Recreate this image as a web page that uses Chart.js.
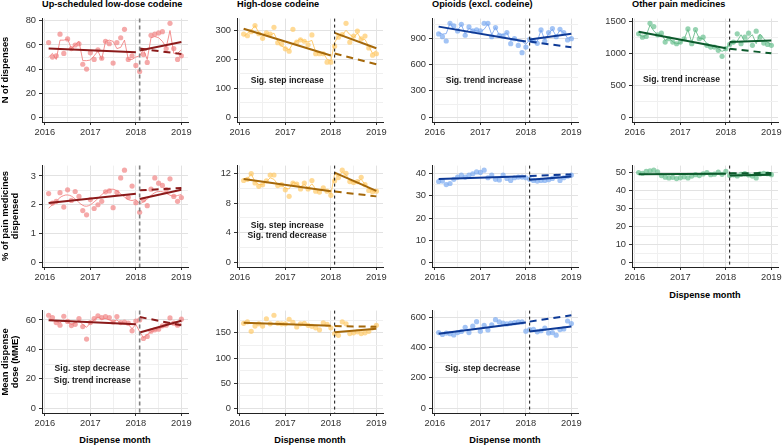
<!DOCTYPE html>
<html><head><meta charset="utf-8">
<script src="https://cdn.jsdelivr.net/npm/chart.js@4.4.1/dist/chart.umd.min.js"></script>
<style>
body{margin:0;background:#fff;}
#root{position:relative;width:782px;height:446px;overflow:hidden;font-family:'Liberation Sans',Arial,Helvetica,sans-serif;background:#fff;}
.panel{position:absolute;}
.txt{position:absolute;font-weight:bold;font-size:9.2px;color:#000;white-space:nowrap;line-height:10px;}
.ylab{position:absolute;font-weight:bold;font-size:9.4px;color:#000;white-space:nowrap;line-height:10px;text-align:center;transform:rotate(-90deg);}
</style></head><body><div id="root"></div>
<script>
// ---------- categories / ticks ----------
const months = [1,2,3,4,5,6,7,8,9,10,11,12,13,14,15,16,17,18,19,20,21,22,23,24,25,26,27,28,29,30,31,32,33,34,35,36];
const preMonths = [1,24];
const postMonths = [25,36];
const interventionMonth = 25;
const yearTickMonths = [0,12,24,36];
const yearLabels = ['2016','2017','2018','2019'];
const drugGroups = ['Up-scheduled low-dose codeine','High-dose codeine','Opioids (excl. codeine)','Other pain medicines'];
const outcomeLabels = [['N of dispenses'],['% of pain medicines','dispensed'],['Mean dispense','dose (MME)']];
const xAxisTitle = 'Dispense month';

// ---------- N of dispenses ----------
const lowN_obs = [62,50,51,69,53,65,57,60,61,44,40,53.5,48,56,49,63,61,45,62,66,73,48,51,43,38,52,45.5,68,69,70,71,57,78,57,48,51];
const lowN_fit = [50,53,48,64,64,65,57,60,63,47,47,47.5,51,55,48,63,64,63,57,58,64,48,48,50,51,56,48,66,67,66,63,58,72,53,53,56];
const lowN_pre = [57,54];
const lowN_post = [55.5,62.5];
const lowN_cf = [57,52.5];

const highN_obs = [287,281,295,316,288,272,291,287,310,257,253,236,228,303,259,267,262,250,284,219,219,219,190,190,245,276,285,324,259,280,297,270,280,239,214,219];
const highN_fit = [278,290,300,316,292,285,290,283,290,262,245,240,232,255,262,270,262,260,265,225,222,222,200,195,258,280,283,300,285,275,290,270,268,245,220,230];
const highN_pre = [305,213];
const highN_post = [291,238];
const highN_cf = [220,183];

const opiN_obs = [947,916,867,1068,1038,981,1057,932,1027,981,992,981,1068,1068,916,1019,932,924,962,836,893,817,734,798,886,867,840,992,867,962,1008,916,1000,962,878,893];
const opiN_fit = [960,945,950,1068,1000,990,1050,950,1010,990,985,970,1000,1060,940,1020,935,940,960,870,890,860,860,830,880,870,860,990,880,950,1000,920,990,960,900,910];
const opiN_pre = [1030,860];
const opiN_post = [885,950];
const opiN_cf = [860,795];

const othN_obs = [1304,1252,1263,1469,1417,1289,1314,1175,1227,1175,1149,1175,1227,1381,1149,1371,1227,1252,1124,1098,1098,1046,953,1072,1139,1175,1304,1149,1252,1314,1124,1345,1252,1160,1139,1124];
const othN_fit = [1300,1260,1280,1440,1350,1290,1300,1200,1240,1180,1150,1160,1220,1370,1170,1360,1230,1230,1150,1120,1110,1070,1030,1060,1160,1150,1190,1290,1180,1240,1290,1150,1300,1230,1170,1140];
const othN_pre = [1335,1080];
const othN_post = [1175,1200];
const othN_cf = [1070,1000];

// ---------- % of pain medicines dispensed ----------
const lowP_obs = [2.39,2.06,2.12,2.42,1.92,2.52,2.15,2.46,2.29,1.80,1.65,2.18,1.87,2.0,2.12,2.45,2.48,1.90,2.43,2.93,3.20,2.26,2.65,2.07,1.74,2.17,1.97,2.54,2.93,2.75,2.67,2.53,2.90,2.29,2.12,2.25];
const lowP_fit = [1.88,2.0,2.12,2.25,2.32,2.34,2.3,2.2,2.08,1.98,1.95,2.0,2.1,2.22,2.35,2.45,2.52,2.54,2.48,2.38,2.27,2.18,2.15,2.17,2.05,2.1,2.2,2.32,2.42,2.46,2.45,2.4,2.33,2.3,2.32,2.36];
const lowP_pre = [2.06,2.38];
const lowP_post = [2.2,2.52];
const lowP_cf = [2.5,2.58];

const highP_obs = [11.04,11.2,11.96,10.7,10.26,10.48,11.0,11.78,11.78,10.35,10.48,9.78,8.91,10.7,10.57,9.9,10.7,9.9,11.04,9.6,9.48,10.04,9.6,9.04,11.0,11.43,12.43,12.0,10.9,10.78,10.9,11.48,10.48,9.7,9.52,9.6];
const highP_fit = [11.1,11.3,11.9,10.9,10.5,10.5,10.9,11.4,11.2,10.5,10.4,10.0,9.9,10.8,10.6,10.2,10.5,10.0,10.6,9.9,9.7,9.9,9.6,9.2,11.9,11.6,12.2,11.8,11.0,10.8,10.9,11.2,10.5,9.9,9.6,9.6];
const highP_pre = [11.25,9.6];
const highP_post = [12.1,9.65];
const highP_cf = [9.55,8.9];

const opiP_obs = [36.5,36.7,35.1,35.6,37.5,38.5,39.4,38.5,39.4,40.0,40.8,40.6,41.6,38.2,39.4,37.5,37.2,39.4,37.9,37.0,38.2,38.5,38.5,38.2,37.5,37.0,36.7,37.0,37.0,37.3,37.9,38.8,37.0,38.2,38.9,39.4];
const opiP_pre = [37.6,38.9];
const opiP_post = [37.3,38.8];
const opiP_cf = [39.0,39.7];

const othP_obs = [50.2,49.8,50.8,51.2,51.5,50.6,48.5,47.6,47.2,47.5,46.8,47.3,47.8,47.2,48.2,49.0,48.5,49.4,50.2,49.0,49.3,50.4,49.2,50.8,48.6,48.9,48.3,49.2,49.6,48.8,48.2,47.2,49.4,49.8,49.5,49.0];
const othP_pre = [49.2,49.5];
const othP_post = [48.6,49.0];
const othP_cf = [49.8,49.9];

// ---------- Mean dispense dose (MME) ----------
const lowD_obs = [63.2,61.6,58.2,56.4,62.5,59,56.2,57,61,55.5,47,58.2,61,62.7,61.6,62.3,61.6,58.6,62.3,58.2,58.6,57.8,52.6,59.3,60,47.4,48.8,52.4,53.3,53.7,56,56.4,61.4,57.8,56.4,60.5];
const lowD_fit = [61,60,59,58,60,58.5,57,58,59.5,57,55,58,60,62,60.5,61,60,59,60,58,58,57,54,57,52,48,50,52,53,54,55,56,58,57,56,58];
const lowD_pre = [59.8,57];
const lowD_post = [51.5,59.5];
const lowD_cf = [62,56.4];

const highD_obs = [169,172,153,163.5,168,163.5,178,168,185,169,168,168,177,171,161.6,168,169,165,163,160,156,170,167,160,148.5,145,172,168,148.5,150,152,148.5,150,153,160,165];
const highD_pre = [170,164];
const highD_post = [151,158];
const highD_cf = [163.5,162];

const opiD_obs = [498,486,495,491,482,498,505,533,498,540,570,507,546,515,549,583,568,561,555,560,563,568,568,507,518,520,503,510,527,496,498,481,518,522,574,557];
const opiD_pre = [490,565];
const opiD_post = [505,538];
const opiD_cf = [570,612];

// ---------- y major tick steps ----------
const yMajor = [[20,100,300,500],[1,4,10,10],[20,50,200,null]];

// ---------- annotations (data coords) ----------
const notes = {
  '0,1':[{x:12.5,y:127,t:'Sig. step increase'}],
  '0,2':[{x:13,y:420,t:'Sig. trend increase'}],
  '0,3':[{x:12.3,y:589,t:'Sig. trend increase'}],
  '1,1':[{x:12.5,y:4.9,t:'Sig. step increase'},{x:12.5,y:3.6,t:'Sig. trend decrease'}],
  '2,0':[{x:12.5,y:26.8,t:'Sig. step decrease'},{x:12.5,y:18.6,t:'Sig. trend increase'}],
  '2,2':[{x:12.6,y:261,t:'Sig. step decrease'}]
};

// ---------- styles / layout ----------
const FONT = "'Liberation Sans', Arial, Helvetica, sans-serif";
const colStyle = [
  {pt:'rgba(240,128,128,0.68)', thin:'rgba(240,120,120,0.9)', dark:'#8B1A1A', vcol:'#7f7f7f', vw:1.6, vdash:[4,3]},
  {pt:'rgba(255,200,100,0.68)', thin:'rgba(255,196,90,0.95)', dark:'#A5680A', vcol:'#111', vw:1, vdash:[3,3]},
  {pt:'rgba(120,168,240,0.68)', thin:'rgba(120,165,240,0.95)', dark:'#0E3A96', vcol:'#111', vw:1, vdash:[3,3]},
  {pt:'rgba(100,190,140,0.68)', thin:'rgba(100,185,135,0.95)', dark:'#0C5A2C', vcol:'#111', vw:1, vdash:[3,3]}
];
const colLeft = [42,237,432,632];
const plotW = 146;
const rowTop = [18,165,310];
const rowH = [104,102,103];
const YW = 34, XH = 20, PT = 8, PR = 14;

const panels = [
  {r:0,c:0,obs:lowN_obs,fit:lowN_fit,pre:lowN_pre,post:lowN_post,cf:lowN_cf},
  {r:0,c:1,obs:highN_obs,fit:highN_fit,pre:highN_pre,post:highN_post,cf:highN_cf},
  {r:0,c:2,obs:opiN_obs,fit:opiN_fit,pre:opiN_pre,post:opiN_post,cf:opiN_cf},
  {r:0,c:3,obs:othN_obs,fit:othN_fit,pre:othN_pre,post:othN_post,cf:othN_cf},
  {r:1,c:0,obs:lowP_obs,fit:lowP_fit,pre:lowP_pre,post:lowP_post,cf:lowP_cf,smooth:true},
  {r:1,c:1,obs:highP_obs,fit:highP_fit,pre:highP_pre,post:highP_post,cf:highP_cf},
  {r:1,c:2,obs:opiP_obs,pre:opiP_pre,post:opiP_post,cf:opiP_cf},
  {r:1,c:3,obs:othP_obs,pre:othP_pre,post:othP_post,cf:othP_cf},
  {r:2,c:0,obs:lowD_obs,fit:lowD_fit,pre:lowD_pre,post:lowD_post,cf:lowD_cf},
  {r:2,c:1,obs:highD_obs,pre:highD_pre,post:highD_post,cf:highD_cf},
  {r:2,c:2,obs:opiD_obs,pre:opiD_pre,post:opiD_post,cf:opiD_cf}
];

const root = document.getElementById('root');
const xRange = Math.max(...months) - Math.min(...months);
const xMin = Math.min(...months) - 0.05*xRange;
const xMax = Math.max(...months) + 0.05*xRange;

function isMult(v, step){ const q = v/step; return Math.abs(q - Math.round(q)) < 1e-6; }

panels.forEach(p => {
  const st = colStyle[p.c];
  const major = yMajor[p.r][p.c];
  const all = [].concat(p.obs, p.fit||[], p.pre, p.post, p.cf);
  const M = Math.max(...all);
  const yMin = -0.05*M, yMax = 1.05*M;
  const W = YW + plotW + PR, H = PT + rowH[p.r] + XH;
  const div = document.createElement('div');
  div.className = 'panel';
  div.style.left = (colLeft[p.c]-YW)+'px';
  div.style.top = (rowTop[p.r]-PT)+'px';
  div.style.width = W+'px'; div.style.height = H+'px';
  const cv = document.createElement('canvas');
  cv.width = W; cv.height = H; cv.style.width = W+'px'; cv.style.height = H+'px';
  div.appendChild(cv); root.appendChild(div);

  const ds = [];
  ds.push({data:p.cf.map((v,i)=>({x:postMonths[i],y:v})), borderColor:st.dark, borderWidth:2, borderDash:[7,5], pointRadius:0, fill:false, order:1});
  ds.push({data:p.pre.map((v,i)=>({x:preMonths[i],y:v})), borderColor:st.dark, borderWidth:2, pointRadius:0, fill:false, order:2});
  ds.push({data:p.post.map((v,i)=>({x:postMonths[i],y:v})), borderColor:st.dark, borderWidth:2, pointRadius:0, fill:false, order:2});
  if (p.fit) ds.push({data:p.fit.map((v,i)=>({x:months[i],y:v})), borderColor:st.thin, borderWidth:0.9, pointRadius:0, fill:false, tension:p.smooth?0.4:0, order:4});
  ds.push({data:p.obs.map((v,i)=>({x:months[i],y:v})), showLine:false, pointRadius:2.6, pointBackgroundColor:st.pt, pointBorderWidth:0, pointBorderColor:'rgba(0,0,0,0)', order:5});

  const key = p.r+','+p.c;
  const extra = {
    id:'extra'+key,
    afterDatasetsDraw(chart){
      const ctx = chart.ctx, ca = chart.chartArea;
      const x = chart.scales.x.getPixelForValue(interventionMonth);
      ctx.save();
      ctx.strokeStyle = st.vcol; ctx.lineWidth = st.vw; ctx.setLineDash(st.vdash);
      ctx.beginPath(); ctx.moveTo(x, ca.top); ctx.lineTo(x, ca.bottom); ctx.stroke();
      ctx.setLineDash([]);
      (notes[key]||[]).forEach(n => {
        ctx.font = 'bold 8.6px ' + FONT;
        ctx.fillStyle = '#1a1a1a'; ctx.textAlign = 'center'; ctx.textBaseline = 'middle';
        ctx.fillText(n.t, chart.scales.x.getPixelForValue(n.x), chart.scales.y.getPixelForValue(n.y));
      });
      ctx.restore();
    }
  };

  new Chart(cv, {
    type:'line',
    data:{datasets:ds},
    options:{
      animation:false, responsive:false, maintainAspectRatio:false, events:[],
      layout:{padding:{top:PT,right:PR,left:0,bottom:0}},
      plugins:{legend:{display:false}, tooltip:{enabled:false}},
      scales:{
        x:{type:'linear', min:xMin, max:xMax,
          afterFit(s){ s.height = XH; },
          ticks:{stepSize:6, includeBounds:false, autoSkip:false, maxRotation:0, padding:2,
            font:{size:9.3, family:FONT}, color:'#333',
            callback:(v)=>{ const i = yearTickMonths.indexOf(v); return i>=0 ? yearLabels[i] : ''; }},
          grid:{lineWidth:1, tickLength:3,
            color:(c)=> (c.tick && yearTickMonths.indexOf(c.tick.value)>=0) ? '#e2e2e2' : '#f0f0f0',
            tickColor:(c)=> (c.tick && yearTickMonths.indexOf(c.tick.value)>=0) ? '#333' : 'rgba(0,0,0,0)'},
          border:{display:true, color:'#222', width:1}
        },
        y:{type:'linear', min:yMin, max:yMax,
          afterFit(s){ s.width = YW; },
          ticks:{stepSize:major/2, includeBounds:false, autoSkip:false, padding:3,
            font:{size:9.3, family:FONT}, color:'#333',
            callback:(v)=> isMult(v, major) ? String(Math.round(v*100)/100) : ''},
          grid:{lineWidth:1, tickLength:3,
            color:(c)=> (c.tick && isMult(c.tick.value, major)) ? '#e2e2e2' : '#f0f0f0',
            tickColor:(c)=> (c.tick && isMult(c.tick.value, major)) ? '#333' : 'rgba(0,0,0,0)'},
          border:{display:true, color:'#222', width:1}
        }
      }
    },
    plugins:[extra]
  });
});

// titles
drugGroups.forEach((t,i) => {
  const d = document.createElement('div'); d.className='txt'; d.textContent = t;
  d.style.left = colLeft[i]+'px'; d.style.top = '-1px'; root.appendChild(d);
});
// y-axis titles
outcomeLabels.forEach((lines,r) => {
  const d = document.createElement('div'); d.className='ylab';
  d.innerHTML = lines.join('<br>');
  const w = 150, h = lines.length*10;
  const cx = lines.length === 1 ? 4.5 : 9.5;
  const cy = rowTop[r] + rowH[r]/2;
  d.style.width = w+'px'; d.style.height = h+'px';
  d.style.left = (cx - w/2)+'px'; d.style.top = (cy - h/2)+'px';
  root.appendChild(d);
});
// x-axis titles
[[0,2,440],[1,2,440],[2,2,440],[3,1,295]].forEach(([c,r,y]) => {
  const d = document.createElement('div'); d.className='txt'; d.textContent = xAxisTitle;
  d.style.left = (colLeft[c] + plotW/2 - 50)+'px'; d.style.width='100px'; d.style.textAlign='center';
  d.style.top = (y-5)+'px'; root.appendChild(d);
});
</script></body></html>
